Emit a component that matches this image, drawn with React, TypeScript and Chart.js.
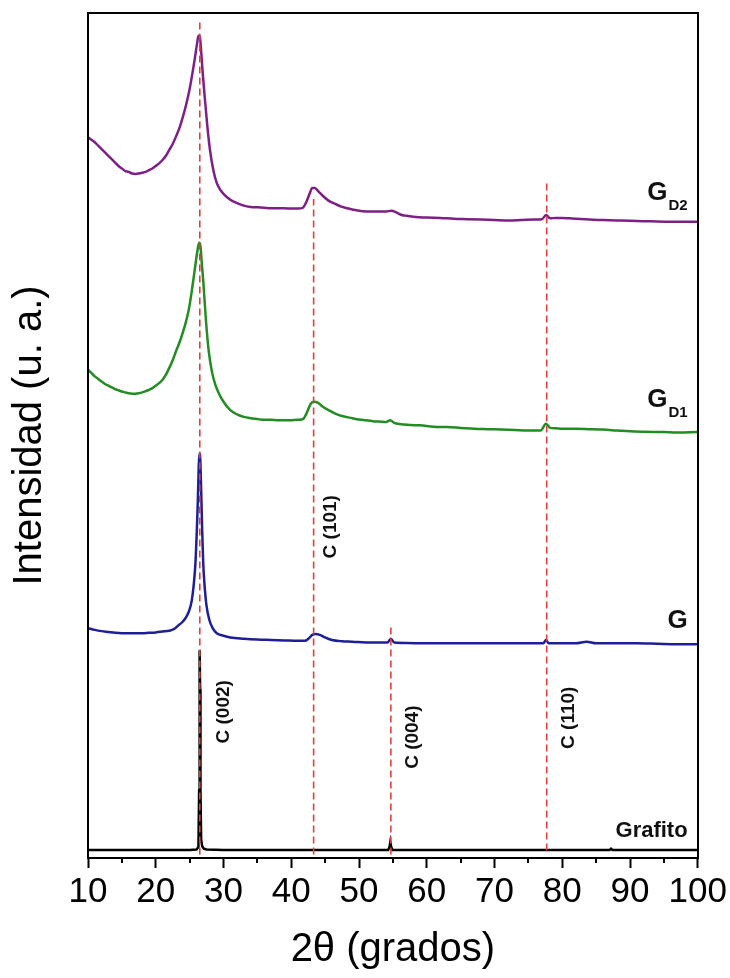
import { useEffect, useRef } from 'react';
import { Chart, registerables } from 'chart.js';

Chart.register(...registerables);

// 2θ (degrees) and intensity (a.u., stacked offsets) for each sample
const gd2Angle = [10, 10.5, 11, 11.5, 12, 12.5, 13, 13.5, 14, 14.5, 15, 15.5, 16, 16.5, 17, 17.5, 18, 18.5, 19, 19.5, 20, 20.5, 21, 21.5, 22, 22.5, 23, 23.5, 24, 24.5, 25, 25.5, 25.8, 26.1, 26.3, 26.5, 26.7, 26.9, 27.2, 27.6, 28, 28.5, 29, 29.5, 30, 31, 32, 33, 34, 35, 36, 37, 38, 39, 40, 41, 41.7, 42.2, 42.7, 43.1, 43.5, 44, 44.6, 45.5, 46.5, 47.5, 49, 50.5, 52, 53, 54, 54.8, 55.5, 56.3, 57, 58, 60, 62, 64, 66, 68, 70, 72, 74, 76, 77, 77.6, 78.2, 79, 80, 81, 82, 84, 86, 88, 90, 93, 96, 100];
const gd2Intensity = [85.3, 85.0, 84.7, 84.3, 83.9, 83.5, 83.1, 82.7, 82.3, 81.9, 81.6, 81.3, 81.2, 81.0, 80.95, 81.0, 81.1, 81.2, 81.4, 81.6, 81.9, 82.2, 82.6, 83.1, 83.8, 84.5, 85.4, 86.4, 87.7, 89.2, 91.0, 93.3, 94.8, 96.4, 97.3, 97.2, 95.5, 93.2, 90.3, 86.7, 83.8, 81.4, 79.9, 79.1, 78.6, 77.9, 77.5, 77.2, 77.05, 77.0, 76.95, 76.9, 76.9, 76.9, 76.85, 76.85, 76.95, 77.6, 78.6, 79.3, 79.3, 78.9, 78.4, 77.8, 77.4, 77.05, 76.75, 76.55, 76.5, 76.5, 76.5, 76.6, 76.4, 76.1, 76.0, 75.9, 75.8, 75.75, 75.65, 75.6, 75.55, 75.5, 75.45, 75.5, 75.55, 75.6, 76.1, 75.7, 75.75, 75.75, 75.7, 75.65, 75.55, 75.5, 75.45, 75.4, 75.35, 75.3, 75.3];

const gd1Angle = [10, 10.5, 11, 11.5, 12, 12.5, 13, 13.5, 14, 14.5, 15, 15.5, 16, 16.5, 17, 17.5, 18, 18.5, 19, 19.5, 20, 20.5, 21, 21.5, 22, 22.5, 23, 23.5, 24, 24.5, 24.9, 25.3, 25.7, 26.1, 26.4, 26.6, 26.8, 27, 27.4, 27.8, 28.3, 28.8, 29.3, 30, 31, 32, 33, 34, 35, 36, 37, 38, 39, 40, 41, 41.8, 42.4, 42.9, 43.4, 43.9, 44.5, 45.5, 46.5, 47.5, 49, 50, 51, 52, 53, 54, 54.6, 55.2, 56, 57.5, 59, 61, 63, 65, 67, 69, 71, 73, 75, 76.8, 77.6, 78.2, 79, 80, 82, 84, 86, 88, 90, 92, 95, 97, 100];
const gd1Intensity = [57.8, 57.4, 57.0, 56.7, 56.4, 56.1, 55.9, 55.7, 55.5, 55.35, 55.2, 55.1, 55.0, 54.95, 54.95, 55.0, 55.1, 55.25, 55.4, 55.6, 55.9, 56.2, 56.6, 57.2, 58.0, 58.9, 60.0, 61.0, 62.2, 63.6, 65.0, 67.0, 69.3, 71.6, 72.8, 72.4, 70.3, 68.4, 63.7, 60.1, 57.5, 56.0, 55.0, 54.0, 53.0, 52.5, 52.2, 52.05, 51.95, 51.85, 51.85, 51.8, 51.8, 51.8, 51.85, 52.0, 52.9, 53.8, 54.0, 53.9, 53.5, 53.0, 52.6, 52.3, 52.05, 51.9, 51.8, 51.7, 51.65, 51.6, 51.8, 51.5, 51.35, 51.25, 51.2, 51.05, 51.0, 50.9, 50.8, 50.75, 50.7, 50.65, 50.6, 50.6, 51.4, 50.9, 50.85, 50.8, 50.8, 50.75, 50.7, 50.6, 50.5, 50.45, 50.4, 50.35, 50.4];

const gAngle = [10, 11, 12, 13, 14, 15, 16, 17, 18, 19, 20, 21, 22, 22.7, 23.3, 23.9, 24.4, 24.9, 25.3, 25.6, 25.85, 26.05, 26.2, 26.35, 26.45, 26.55, 26.7, 26.85, 27, 27.2, 27.5, 27.9, 28.4, 29, 30, 31, 33, 35, 37, 39, 41, 42, 42.6, 43.1, 43.6, 44.2, 45, 46, 47.5, 49, 51, 53, 54.2, 54.7, 55.2, 57, 60, 63, 66, 70, 74, 77.2, 77.6, 78, 80, 82, 83.6, 85, 88, 91, 94, 97, 100];
const gIntensity = [27.2, 27.0, 26.85, 26.75, 26.65, 26.6, 26.6, 26.6, 26.6, 26.65, 26.7, 26.8, 26.9, 27.1, 27.5, 27.9, 28.4, 29.2, 30.4, 32.3, 34.8, 38.5, 42.0, 46.5, 47.9, 47.5, 43.6, 38.8, 35.0, 32.3, 29.8, 28.2, 27.2, 26.6, 26.3, 26.1, 25.95, 25.85, 25.8, 25.75, 25.7, 25.7, 26.0, 26.4, 26.5, 26.4, 26.1, 25.8, 25.65, 25.6, 25.5, 25.5, 25.5, 25.95, 25.5, 25.45, 25.4, 25.4, 25.4, 25.4, 25.4, 25.4, 25.8, 25.4, 25.4, 25.4, 25.6, 25.4, 25.4, 25.4, 25.35, 25.3, 25.3];

const grafitoAngle = [10, 20, 25, 26.0, 26.3, 26.4, 26.45, 26.5, 26.55, 26.6, 26.7, 26.85, 27.1, 27.5, 30, 54.3, 54.5, 54.62, 54.75, 54.95, 87, 87.2, 87.4, 100];
const grafitoIntensity = [0.95, 0.95, 0.95, 1.0, 1.3, 8, 20, 24.6, 20, 8, 2.2, 1.4, 1.1, 1.0, 0.95, 0.95, 1.3, 1.9, 1.3, 0.95, 0.95, 1.1, 0.95, 0.95];

// Graphite reflections (2θ) with the span of each reference line
const reflectionAngle = [26.5, 43.3, 54.7, 77.7];
const reflectionTop = [99.2, 78, 27.3, 79.9];
const reflectionBottom = [0.4, 0.4, 0.4, 0.9];
const reflectionLabel = ['C (002)', 'C (101)', 'C (004)', 'C (110)'];

const xTickValues = [10, 20, 30, 40, 50, 60, 70, 80, 90, 100];
const xMinorTickValues = [15, 25, 35, 45, 55, 65, 75, 85, 95];

// Where the annotation texts sit, in data units
const reflectionLabelPos = [
  { x: 30.0, y: 17.3 },
  { x: 45.9, y: 39.2 },
  { x: 58.0, y: 14.3 },
  { x: 81.0, y: 16.6 },
];
const sampleLabels = [
  { main: 'G', sub: 'D2', y: 77.9, size: 26 },
  { main: 'G', sub: 'D1', y: 53.4, size: 26 },
  { main: 'G', sub: '', y: 27.2, size: 26 },
  { main: 'Grafito', sub: '', y: 2.5, size: 22 },
];
const sampleLabelRight = 98.5;

const FONT = '"Liberation Sans", Arial, Helvetica, sans-serif';

const toPoints = (xs: number[], ys: number[]) => xs.map((x, i) => ({ x, y: ys[i] }));

const overlayPlugin = {
  id: 'xrdOverlay',
  afterDraw(chart: any) {
    const { ctx, chartArea, scales } = chart;
    const xs = scales.x;
    const ys = scales.y;
    ctx.save();

    // minor ticks on the 2θ axis
    ctx.strokeStyle = '#000';
    ctx.lineWidth = 2;
    for (const v of xMinorTickValues) {
      const px = Math.round(xs.getPixelForValue(v));
      ctx.beginPath();
      ctx.moveTo(px, chartArea.bottom);
      ctx.lineTo(px, chartArea.bottom + 5);
      ctx.stroke();
    }

    // closed frame around the plot
    ctx.strokeRect(
      Math.round(chartArea.left),
      Math.round(chartArea.top),
      Math.round(chartArea.right - chartArea.left),
      Math.round(chartArea.bottom - chartArea.top)
    );

    // rotated reflection indices
    ctx.fillStyle = '#111';
    ctx.font = `bold 19px ${FONT}`;
    ctx.textAlign = 'center';
    ctx.textBaseline = 'middle';
    reflectionLabel.forEach((text, i) => {
      const p = reflectionLabelPos[i];
      ctx.save();
      ctx.translate(xs.getPixelForValue(p.x), ys.getPixelForValue(p.y));
      ctx.rotate(-Math.PI / 2);
      ctx.fillText(text, 0, 0);
      ctx.restore();
    });

    // sample names, right aligned
    ctx.textAlign = 'right';
    ctx.textBaseline = 'alphabetic';
    const right = xs.getPixelForValue(sampleLabelRight);
    for (const lab of sampleLabels) {
      const base = ys.getPixelForValue(lab.y);
      let mainRight = right;
      if (lab.sub) {
        ctx.font = `bold 15px ${FONT}`;
        const w = ctx.measureText(lab.sub).width;
        ctx.fillText(lab.sub, right, base + 10);
        mainRight = right - w - 1;
      }
      ctx.font = `bold ${lab.size}px ${FONT}`;
      ctx.fillText(lab.main, mainRight, base);
    }

    ctx.restore();
  },
};

export default function App() {
  const canvasRef = useRef<HTMLCanvasElement | null>(null);

  useEffect(() => {
    if (!canvasRef.current) return;

    const curveStyle = (color: string) => ({
      borderColor: color,
      borderWidth: 2.5,
      pointRadius: 0,
      fill: false,
      cubicInterpolationMode: 'monotone' as const,
      order: 1,
    });

    const reflectionSets = reflectionAngle.map((a, i) => ({
      label: reflectionLabel[i],
      data: [
        { x: a, y: reflectionBottom[i] },
        { x: a, y: reflectionTop[i] },
      ],
      borderColor: '#E0403C',
      borderWidth: 1.6,
      borderDash: [7, 4],
      pointRadius: 0,
      fill: false,
      order: 0,
    }));

    const chart = new Chart(canvasRef.current, {
      type: 'line',
      data: {
        datasets: [
          ...reflectionSets,
          { label: 'GD2', data: toPoints(gd2Angle, gd2Intensity), ...curveStyle('#7E1F86') },
          { label: 'GD1', data: toPoints(gd1Angle, gd1Intensity), ...curveStyle('#238C23') },
          { label: 'G', data: toPoints(gAngle, gIntensity), ...curveStyle('#1E1E96') },
          {
            label: 'Grafito',
            data: toPoints(grafitoAngle, grafitoIntensity),
            borderColor: '#000',
            borderWidth: 2.5,
            pointRadius: 0,
            fill: false,
            tension: 0,
            order: 1,
          },
        ],
      },
      options: {
        animation: false,
        responsive: true,
        maintainAspectRatio: false,
        devicePixelRatio: 1,
        layout: { padding: { top: 13, right: 31, bottom: 0, left: 0 } },
        plugins: {
          legend: { display: false },
          tooltip: { enabled: false },
        },
        scales: {
          x: {
            type: 'linear',
            min: 10,
            max: 100,
            afterBuildTicks: (scale: any) => {
              scale.ticks = xTickValues.map((v) => ({ value: v }));
            },
            afterFit: (scale: any) => {
              scale.height = 120;
            },
            ticks: {
              color: '#000',
              padding: 3,
              maxRotation: 0,
              autoSkip: false,
              font: { family: FONT, size: 35 },
            },
            grid: {
              display: true,
              drawOnChartArea: false,
              drawTicks: true,
              tickLength: 10,
              tickWidth: 2,
              tickColor: '#000',
            },
            border: { display: true, color: '#000', width: 2 },
            title: {
              display: true,
              text: '2θ (grados)',
              color: '#000',
              padding: { top: 0, bottom: 4 },
              font: { family: FONT, size: 40 },
            },
          },
          y: {
            type: 'linear',
            min: 0,
            max: 100,
            afterFit: (scale: any) => {
              scale.width = 88;
            },
            ticks: { display: false },
            grid: { display: false, drawTicks: false },
            border: { display: true, color: '#000', width: 2 },
            title: {
              display: true,
              text: 'Intensidad (u. a.)',
              color: '#000',
              padding: { top: 6, bottom: 0 },
              font: { family: FONT, size: 40 },
            },
          },
        },
      },
      plugins: [overlayPlugin],
    });

    return () => chart.destroy();
  }, []);

  return (
    <div style={{ position: 'absolute', left: 0, top: 0, width: 730, height: 978, background: '#fff' }}>
      <canvas ref={canvasRef} />
    </div>
  );
}
